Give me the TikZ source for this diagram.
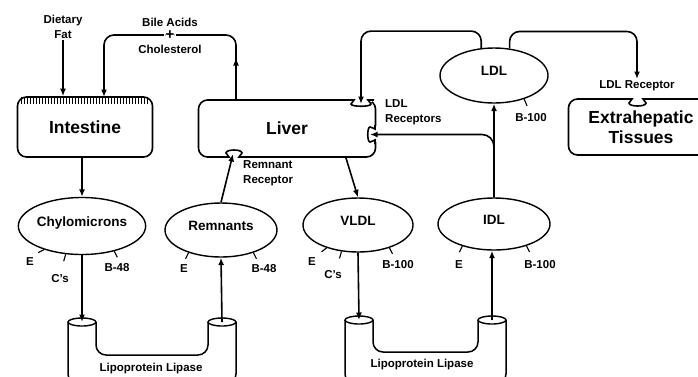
\documentclass[tikz,border=0pt]{standalone}
\usepackage{fontspec}
\setmainfont{Liberation Sans}
\usetikzlibrary{arrows.meta,positioning,shapes.geometric}
\tikzset{
  >={Latex[length=7.5pt,width=6pt]},
  every node/.style={font=\bfseries\fontsize{11.5}{15}\selectfont,text=black,inner sep=1pt},
  organ/.style={draw,line width=1.6pt,rounded corners=9pt,align=center,font=\bfseries\fontsize{17.5}{20}\selectfont},
  particle/.style={draw,ellipse,line width=1.4pt,inner sep=0pt,text depth=9pt,font=\bfseries\fontsize{13.5}{16}\selectfont},
  flow/.style={->,line width=1.6pt},
  apo/.style={line width=1.1pt},
  notch/.style={line width=1.6pt},
  tube/.style={line width=1.5pt,rounded corners=10pt},
  plusmark/.style={fill=white,inner sep=1.5pt,font=\bfseries\fontsize{15}{15}\selectfont}
}

\begin{document}
\begin{tikzpicture}[x=1pt,y=-1pt]
  \useasboundingbox (0,0) rectangle (698,376);
  \clip (0,0) rectangle (698,376);

  % organs
  \node[organ,minimum width=135pt,minimum height=60pt] (gut) at (85,127) {Intestine};
  \node[organ,minimum width=177pt,minimum height=57pt] (liver) at (287,128.5) {Liver};
  \node[organ,minimum width=145pt,minimum height=56pt] (tissue) at (641,127) {Extrahepatic\\Tissues};
  \foreach \i in {0,...,42}
    \draw[line width=0.8pt] (21.5+3*\i,97) -- ++(0,7);

  % receptor pockets
  \fill[white] (350,98) rectangle (372,102);
  \draw[notch] (348,100) -- (354,100) .. controls (354,102) and (351,102) .. (351,104) .. controls (351,107) and (371,107) .. (371,104) .. controls (371,102) and (368,102) .. (368,100) -- (374,100);
  \fill[white] (373,126) rectangle (377,142);
  \draw[notch] (375,125) -- (375,129) .. controls (373,129) and (373,127) .. (370,127) .. controls (367,127) and (367,142) .. (370,142) .. controls (373,142) and (373,140) .. (375,140) -- (375,144);
  \fill[white] (222,155) rectangle (246,159);
  \draw[notch] (220,157) -- (229,157) .. controls (229,155) and (226,155) .. (226,153) .. controls (226,149) and (242,149) .. (242,153) .. controls (242,155) and (239,155) .. (239,157) -- (248,157);
  \fill[white] (626,97) rectangle (649,101);
  \draw[notch] (624,99) -- (632,99) .. controls (632,101) and (629,101) .. (629,103) .. controls (629,107) and (646,107) .. (646,103) .. controls (646,101) and (643,101) .. (643,99) -- (651,99);

  \coordinate (bilein) at (104,97);
  \coordinate (bileout) at (236,100);
  \coordinate (ldlrec) at (361,104);
  \coordinate (ldlrec2) at (370,134.5);
  \coordinate (remrec) at (233,154);
  \coordinate (vldlout) at (346,158);
  \coordinate (extrec) at (637,79);

  % lipoproteins
  \node[particle,minimum width=107pt,minimum height=57pt] (chylo) at (82,226) {Chylomicrons};
  \node[particle,minimum width=112pt,minimum height=54pt] (remn) at (221,230) {Remnants};
  \node[particle,minimum width=110pt,minimum height=54pt] (vldl) at (358,225) {VLDL};
  \node[particle,minimum width=112pt,minimum height=52pt] (idl) at (494,224) {IDL};
  \node[particle,minimum width=108pt,minimum height=55pt] (ldl) at (494,75.5) {LDL};

  % apoproteins
  \draw[apo] (chylo.212) -- ++(-6,3);
  \draw[apo] (chylo.240) -- ++(-2,7);
  \draw[apo] (chylo.322) -- ++(3,6);
  \draw[apo] (remn.215) -- ++(-3,6);
  \draw[apo] (remn.325) -- ++(3,6);
  \draw[apo] (vldl.216) -- ++(-5,4);
  \draw[apo] (vldl.238) -- ++(-2,7);
  \draw[apo] (vldl.324) -- ++(3,6);
  \draw[apo] (idl.215) -- ++(-3,6);
  \draw[apo] (idl.326) -- ++(3,6);
  \draw[apo] (ldl.322) -- ++(3,7);
  \node (chyloE) at (30,262) {E};
  \node (chyloC) at (60,279) {C's};
  \node (chyloB) at (117,268) {B-48};
  \node (remnE) at (184,269) {E};
  \node (remnB) at (264,269) {B-48};
  \node (vldlE) at (312,262) {E};
  \node (vldlC) at (333,275) {C's};
  \node (vldlB) at (398,265) {B-100};
  \node (idlE) at (459,265) {E};
  \node (idlB) at (540,265) {B-100};
  \node (ldlB) at (531,118) {B-100};

  % lipoprotein lipase
  \coordinate (lpl1a) at (82,322);
  \coordinate (lpl1b) at (222,322);
  \coordinate (lpl2a) at (359,320);
  \coordinate (lpl2b) at (492,320);
  \draw[tube] (68,322) -- (68,384) -- (236,384) -- (236,322);
  \draw[tube] (96,322) -- (96,355) -- (208,355) -- (208,322);
  \draw[tube] (345,320) -- (345,384) -- (506,384) -- (506,320);
  \draw[tube] (373,320) -- (373,352) -- (478,352) -- (478,320);
  \foreach \c in {lpl1a,lpl1b,lpl2a,lpl2b}
    \draw[line width=1.4pt] (\c) ellipse (14pt and 4pt);
  \node (lpl1) at (151,369) {Lipoprotein Lipase};
  \node (lpl2) at (422,365) {Lipoprotein Lipase};

  % labels
  \node[align=center] (diet) at (63,27) {Dietary\\Fat};
  \node[align=left,anchor=west] (ldlrecl) at (384,112) {LDL\\Receptors};
  \node[align=left,anchor=west] (remrecl) at (242,173) {Remnant\\Receptor};
  \node[below=0pt of extrec] (extrecl) {LDL Receptor};
  \node (bile) at (170,22) {Bile Acids};
  \node (chol) at (170,49) {Cholesterol};

  % pathways
  \draw[flow] (diet.south) -- (diet.south |- gut.north);
  \draw[flow] (bileout) -- ++(0,-42);
  \draw[flow,rounded corners=10pt] (bileout) -- ++(0,-65) -- node[plusmark] (plus) {+} (bilein |- 0,35) -- (bilein);
  \draw[flow] (gut.south -| chylo) -- (chylo.north);
  \draw[flow] (chylo.south) -- (lpl1a);
  \draw[flow] (lpl1b) -- (remn.south);
  \draw[flow] (remn.north) -- (remrec);
  \draw[flow] (vldlout) -- (vldl.north);
  \draw[flow] (vldl.south) -- (lpl2a);
  \draw[flow] (lpl2b) -- (lpl2b |- idl.south);
  \draw[flow] (idl.north) -- (ldl.south);
  \draw[flow,rounded corners=12pt] (idl.north) |- (ldlrec2);
  \draw[flow,rounded corners=10pt] (ldl.115) -- ++(0,-17) -| (ldlrec);
  \draw[flow,rounded corners=10pt] (ldl.60) -- ++(0,-17) -| (extrec);
\end{tikzpicture}
\end{document}
